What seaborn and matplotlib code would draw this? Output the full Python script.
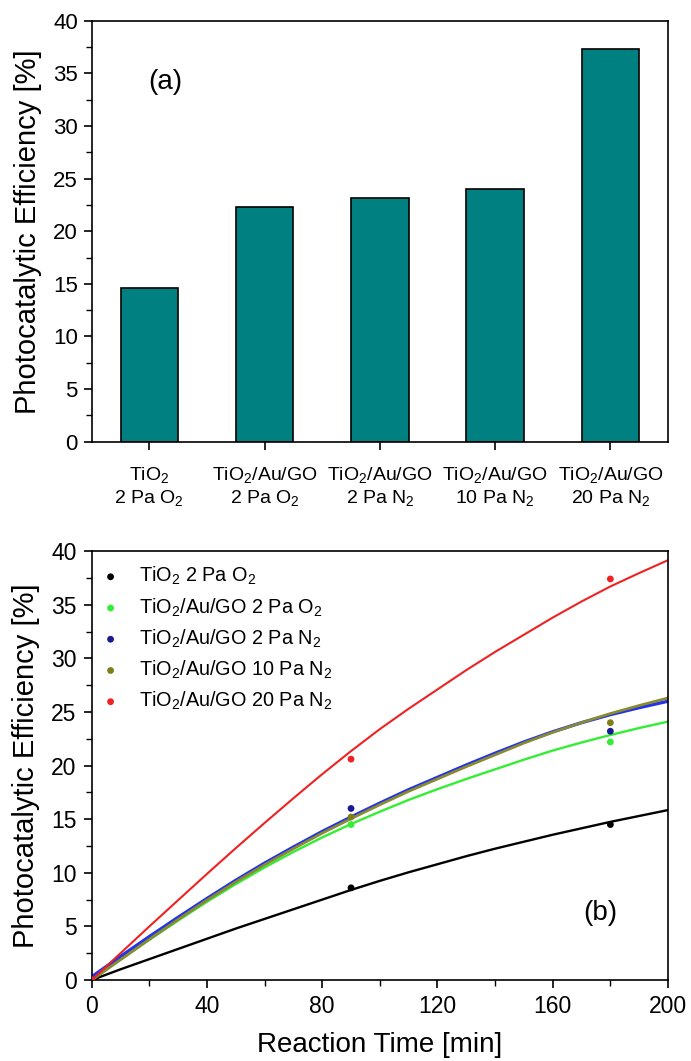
import numpy as np
import pandas as pd
import matplotlib
matplotlib.use("Agg")
import matplotlib.pyplot as plt
import seaborn as sns
from matplotlib.ticker import MultipleLocator

# --- data -------------------------------------------------------------
bar_labels = ['TiO$_2$\n2 Pa O$_2$', 'TiO$_2$/Au/GO\n2 Pa O$_2$', 'TiO$_2$/Au/GO\n2 Pa N$_2$',
              'TiO$_2$/Au/GO\n10 Pa N$_2$', 'TiO$_2$/Au/GO\n20 Pa N$_2$']
bar_values = [14.6, 22.3, 23.2, 24.0, 37.3]

series_names = ['TiO$_2$ 2 Pa O$_2$', 'TiO$_2$/Au/GO 2 Pa O$_2$', 'TiO$_2$/Au/GO 2 Pa N$_2$',
                'TiO$_2$/Au/GO 10 Pa N$_2$', 'TiO$_2$/Au/GO 20 Pa N$_2$']
series_colors = ['#000000', '#33ee33', '#1a1a90', '#7f7f1a', '#ee2222']
curve_colors = ['#000000', '#33ee33', '#2233ee', '#8a8a30', '#ee2222']
curve_widths = [1.7, 1.7, 2.4, 2.0, 1.5]

# measured points
point_times = [0, 90, 180]
point_values = [
    [0.0, 8.6, 14.5],
    [0.0, 14.5, 22.2],
    [0.0, 16.0, 23.2],
    [0.0, 15.2, 24.0],
    [0.0, 20.6, 37.4],
]

# fitted curves
curve_times = [0, 10, 20, 30, 40, 50, 60, 70, 80, 90, 100,
               110, 120, 130, 140, 150, 160, 170, 180, 190, 200]
curve_values = [
    [0.0, 1.0, 1.95, 2.9, 3.85, 4.8, 5.7, 6.6, 7.5, 8.4, 9.25,
     10.05, 10.8, 11.55, 12.25, 12.9, 13.55, 14.15, 14.75, 15.3, 15.85],
    [0.0, 1.9, 3.75, 5.55, 7.3, 8.95, 10.5, 11.95, 13.3, 14.55, 15.7,
     16.8, 17.8, 18.75, 19.65, 20.55, 21.4, 22.15, 22.85, 23.5, 24.1],
    [0.3, 2.2, 4.05, 5.85, 7.6, 9.3, 10.9, 12.4, 13.85, 15.2, 16.5,
     17.75, 18.9, 20.05, 21.15, 22.2, 23.15, 24.0, 24.75, 25.4, 26.0],
    [0.0, 1.9, 3.8, 5.65, 7.45, 9.15, 10.75, 12.25, 13.7, 15.05, 16.35,
     17.6, 18.75, 19.9, 21.0, 22.1, 23.1, 24.0, 24.85, 25.6, 26.3],
    [0.0, 2.5, 5.0, 7.45, 9.9, 12.3, 14.65, 16.95, 19.2, 21.35, 23.4,
     25.3, 27.1, 28.9, 30.6, 32.2, 33.8, 35.3, 36.7, 37.95, 39.15],
]

# --- style ------------------------------------------------------------
sns.set_theme(style="ticks")
plt.rcParams['font.family'] = ['Liberation Sans', 'DejaVu Sans']
plt.rcParams['mathtext.fontset'] = 'custom'
plt.rcParams['mathtext.rm'] = 'Liberation Sans'
plt.rcParams['mathtext.it'] = 'Liberation Sans'
plt.rcParams['mathtext.default'] = 'regular'
plt.rcParams['axes.linewidth'] = 1.2
plt.rcParams['text.color'] = 'black'
plt.rcParams['axes.labelcolor'] = 'black'
plt.rcParams['xtick.color'] = 'black'
plt.rcParams['ytick.color'] = 'black'
plt.rcParams['axes.edgecolor'] = 'black'

fig = plt.figure(figsize=(6.91, 10.61), dpi=100)
ax1 = fig.add_axes([0.1327, 0.5837, 0.834, 0.3968])
ax2 = fig.add_axes([0.1327, 0.0763, 0.834, 0.4043])

# --- (a) bar chart ----------------------------------------------------
bar_df = pd.DataFrame({'sample': bar_labels, 'eff': bar_values})
sns.barplot(data=bar_df, x='sample', y='eff', ax=ax1, color='#008080',
            saturation=1, width=0.5, edgecolor='black', linewidth=1.2)
ax1.set_xlim(-0.5, 4.5)
ax1.set_ylim(0, 40)
ax1.yaxis.set_major_locator(MultipleLocator(5))
ax1.yaxis.set_minor_locator(MultipleLocator(2.5))
ax1.set_xlabel('')
ax1.set_ylabel('Photocatalytic Efficiency [%]', fontsize=21, labelpad=8)
ax1.tick_params(axis='y', labelsize=16, direction='out', length=6, width=1.2, pad=4)
ax1.tick_params(axis='y', which='minor', length=4, width=1)
ax1.tick_params(axis='x', labelsize=14, direction='out', length=6, width=1.2, pad=11)
ax1.text(0.128, 34.2, '(a)', transform=ax1.get_yaxis_transform(), fontsize=20,
         ha='center', va='center')
for sp in ax1.spines.values():
    sp.set_visible(True)

# --- (b) kinetics -----------------------------------------------------
for name, pc, cc, lw, pv, cv in zip(series_names, series_colors, curve_colors,
                                    curve_widths, point_values, curve_values):
    sns.lineplot(x=curve_times, y=cv, ax=ax2, color=cc, linewidth=lw, legend=False)
    sns.scatterplot(x=point_times, y=pv, ax=ax2, color=pc, s=24, edgecolor='none',
                    label=name, zorder=5)

ax2.set_xlim(0, 200)
ax2.set_ylim(0, 40)
ax2.xaxis.set_major_locator(MultipleLocator(40))
ax2.xaxis.set_minor_locator(MultipleLocator(20))
ax2.yaxis.set_major_locator(MultipleLocator(5))
ax2.yaxis.set_minor_locator(MultipleLocator(2.5))
ax2.set_xlabel('Reaction Time [min]', fontsize=20, labelpad=10)
ax2.set_ylabel('Photocatalytic Efficiency [%]', fontsize=21, labelpad=8)
ax2.tick_params(axis='both', labelsize=16.5, direction='out', length=6, width=1.2, pad=5)
ax2.tick_params(axis='both', which='minor', length=4, width=1)
ax2.text(176.5, 6.25, '(b)', fontsize=20, ha='center', va='center')
ax2.legend(loc='upper left', frameon=False, fontsize=14.3, handlelength=0.5,
           handletextpad=1.2, labelspacing=0.45, borderaxespad=0.3, markerscale=1.0)
for sp in ax2.spines.values():
    sp.set_visible(True)

fig.savefig('out.png', dpi=100)
